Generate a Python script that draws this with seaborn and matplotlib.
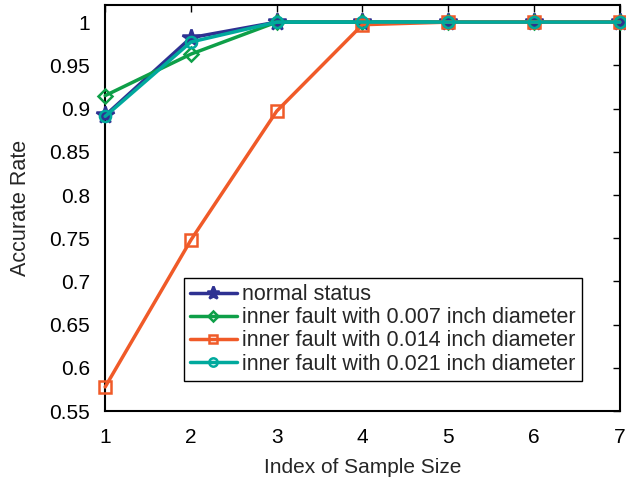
import matplotlib
matplotlib.use("Agg")
import matplotlib.pyplot as plt
import seaborn as sns
import pandas as pd

sample_index = [1, 2, 3, 4, 5, 6, 7]
normal_status = [0.892, 0.982, 1.0, 1.0, 1.0, 1.0, 1.0]
inner_007 = [0.915, 0.963, 1.0, 1.0, 1.0, 1.0, 1.0]
inner_014 = [0.578, 0.748, 0.897, 0.997, 1.0, 1.0, 1.0]
inner_021 = [0.891, 0.977, 1.0, 1.0, 1.0, 1.0, 1.0]

labels = ["normal status",
          "inner fault with 0.007 inch diameter",
          "inner fault with 0.014 inch diameter",
          "inner fault with 0.021 inch diameter"]
colors = ["#2E3192", "#0E9F48", "#F05A28", "#00A99D"]
markers = ["*", "D", "s", "o"]
msizes = [13, 7, 8, 8]

sns.set_style("white")
plt.rcParams['font.family'] = ['Liberation Sans', 'DejaVu Sans']

fig = plt.figure(figsize=(6.26, 4.82), dpi=100)
ax = fig.add_axes([0.168, 0.147, 0.822, 0.843])

for lab, vals, c, m, ms in zip(labels, [normal_status, inner_007, inner_014, inner_021], colors, markers, msizes):
    df = pd.DataFrame({"x": sample_index, "y": vals})
    sns.lineplot(data=df, x="x", y="y", ax=ax, color=c, linewidth=2.5, marker=m,
                 markersize=ms, markerfacecolor=(c if m == "*" else "none"),
                 markeredgecolor=c, markeredgewidth=1.8, label=lab, clip_on=False)

ax.set_xlim(1, 7)
ax.set_ylim(0.55, 1.02)
ax.set_xticks(sample_index)
ax.set_xticklabels([str(v) for v in sample_index])
yt = [0.55, 0.6, 0.65, 0.7, 0.75, 0.8, 0.85, 0.9, 0.95, 1.0]
ax.set_yticks(yt)
ax.set_yticklabels(["0.55", "0.6", "0.65", "0.7", "0.75", "0.8", "0.85", "0.9", "0.95", "1"])
ax.tick_params(direction="in", length=5, width=1, labelsize=15, top=True, right=True,
               colors="black")
ax.tick_params(axis="x", pad=12)
ax.tick_params(axis="y", pad=11)
for s in ax.spines.values():
    s.set_color("black")
    s.set_linewidth(1.5)
    s.set_zorder(0.5)
ax.set_xlabel("Index of Sample Size", fontsize=15, labelpad=8)
ax.set_ylabel("Accurate Rate", fontsize=15.5, labelpad=13)

leg = ax.legend(loc="lower left", bbox_to_anchor=(0.153, 0.074), fontsize=15.5,
                frameon=True, fancybox=False, edgecolor="black", framealpha=1,
                handlelength=2.15, handletextpad=0.23, borderpad=0.3, labelspacing=0.1,
                borderaxespad=0, markerscale=0.75)
leg.get_frame().set_linewidth(1.0)

fig.savefig("out.png", dpi=100)
